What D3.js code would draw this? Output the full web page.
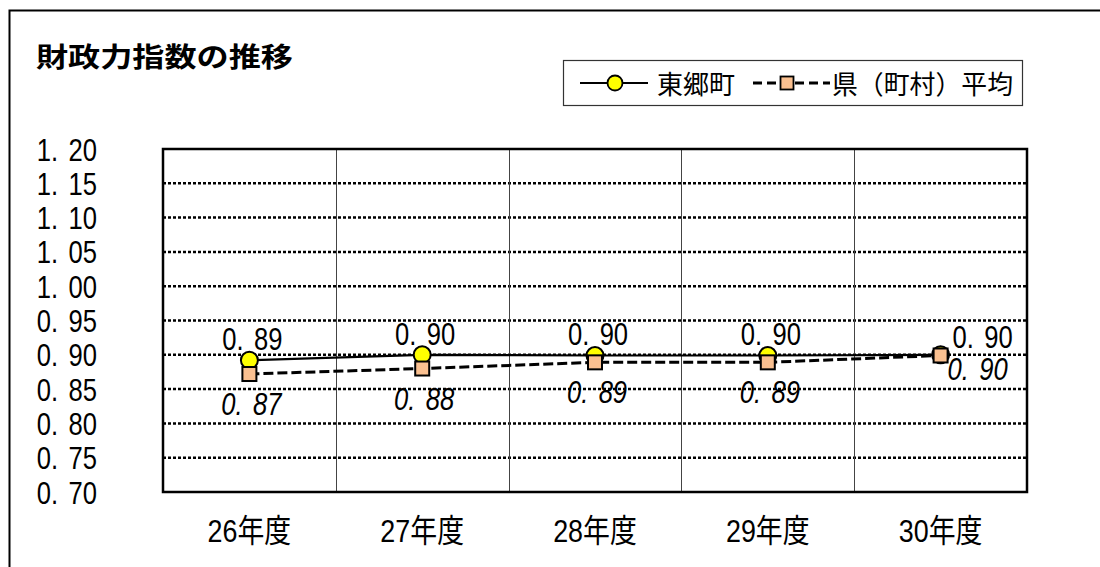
<!DOCTYPE html>
<html><head><meta charset="utf-8">
<script src="https://cdn.jsdelivr.net/npm/d3@7/dist/d3.min.js"></script>
<style>html,body{margin:0;padding:0;background:#fff;}svg{display:block;}</style>
</head><body>
<script>
const title = "財政力指数の推移";
const categories = ["26年度", "27年度", "28年度", "29年度", "30年度"];
const seriesNames = ["東郷町", "県（町村）平均"];
const townValues = [0.892, 0.900, 0.899, 0.899, 0.900];
const prefValues = [0.872, 0.880, 0.889, 0.889, 0.899];
const yTicks = [0.70, 0.75, 0.80, 0.85, 0.90, 0.95, 1.00, 1.05, 1.10, 1.15, 1.20];

const W = 1100, H = 567;
const svg = d3.select("body").append("svg").attr("width", W).attr("height", H);
svg.append("rect").attr("width", W).attr("height", H).attr("fill", "#fff");

// outer border
svg.append("rect").attr("x", 9.5).attr("y", 10.5).attr("width", 1200).attr("height", 700)
  .attr("fill", "none").attr("stroke", "#000").attr("stroke-width", 2);

const plot = {left: 163, right: 1027, top: 149, bottom: 492};
const x = d3.scaleBand().domain(categories).range([plot.left, plot.right]);
const y = d3.scaleLinear().domain([0.70, 1.20]).range([plot.bottom, plot.top]);
const cx = c => x(c) + x.bandwidth() / 2;

const NUMFONT = "'Liberation Sans', Arial, sans-serif";
const SX = 0.8;
function numText(parent, str, px, py, anchor, italic) {
  const g = parent.append("g").attr("transform", `translate(${px},${py}) scale(${SX},1)`);
  const t = g.append("text").attr("text-anchor", anchor)
    .attr("font-family", NUMFONT).attr("font-size", 32).attr("fill", "#000");
  if (italic) t.attr("font-style", "italic");
  const parts = str.split(".");
  t.append("tspan").text(parts[0] + ".");
  t.append("tspan").attr("dx", 13).text(parts[1]);
  return g;
}

// title
svg.append("text").attr("x", 36).attr("y", 67).attr("font-family", "'Noto Sans CJK JP', sans-serif")
  .attr("font-size", 27).attr("font-weight", "bold").attr("textLength", 257)
  .attr("lengthAdjust", "spacingAndGlyphs").text(title);

// legend
const lg = svg.append("g");
lg.append("rect").attr("x", 563.5).attr("y", 60.5).attr("width", 459).attr("height", 45)
  .attr("fill", "#fff").attr("stroke", "#333").attr("stroke-width", 1.2);
lg.append("line").attr("x1", 580).attr("x2", 648).attr("y1", 83).attr("y2", 83)
  .attr("stroke", "#000").attr("stroke-width", 2);
lg.append("circle").attr("cx", 615).attr("cy", 83).attr("r", 7.5)
  .attr("fill", "#FFFF00").attr("stroke", "#000").attr("stroke-width", 1.8);
lg.append("text").attr("x", 657).attr("y", 94).attr("font-family", "'Noto Sans CJK JP', sans-serif")
  .attr("font-size", 26).attr("textLength", 78).attr("lengthAdjust", "spacingAndGlyphs").text(seriesNames[0]);
lg.append("line").attr("x1", 753).attr("x2", 830).attr("y1", 83).attr("y2", 83)
  .attr("stroke", "#000").attr("stroke-width", 2.8).attr("stroke-dasharray", "9,5");
lg.append("rect").attr("x", 780.5).attr("y", 76.5).attr("width", 13).attr("height", 13)
  .attr("fill", "#FAC090").attr("stroke", "#000").attr("stroke-width", 1.8);
lg.append("text").attr("x", 832).attr("y", 94).attr("font-family", "'Noto Sans CJK JP', sans-serif")
  .attr("font-size", 26).attr("textLength", 181).attr("lengthAdjust", "spacingAndGlyphs").text(seriesNames[1]);

// horizontal dotted grid
svg.append("g").selectAll("line").data(yTicks.filter(v => v > 0.70 && v < 1.20)).join("line")
  .attr("x1", plot.left).attr("x2", plot.right).attr("y1", d => y(d)).attr("y2", d => y(d))
  .attr("stroke", "#000").attr("stroke-width", 2.5).attr("stroke-dasharray", "3,2");

// vertical separators
svg.append("g").selectAll("line").data(categories.slice(1)).join("line")
  .attr("x1", d => Math.round(x(d)) + 0.5).attr("x2", d => Math.round(x(d)) + 0.5)
  .attr("y1", plot.top).attr("y2", plot.bottom)
  .attr("stroke", "#444").attr("stroke-width", 1);

// plot border
svg.append("rect").attr("x", plot.left).attr("y", plot.top)
  .attr("width", plot.right - plot.left).attr("height", plot.bottom - plot.top)
  .attr("fill", "none").attr("stroke", "#000").attr("stroke-width", 2.5);

// y tick labels
const yl = svg.append("g");
yTicks.forEach(v => numText(yl, v.toFixed(2), 97, y(v) + 11.5, "end", false));

// x labels
const xl = svg.append("g");
categories.forEach(c => {
  xl.append("g").attr("transform", `translate(${cx(c)},542) scale(0.84,1)`)
    .append("text").attr("text-anchor", "middle")
    .attr("font-family", "'Liberation Sans', 'Noto Sans CJK JP', sans-serif")
    .attr("font-size", 32).text(c);
});

// lines
const townPts = categories.map((c, i) => [cx(c), y(townValues[i])]);
const prefPts = categories.map((c, i) => [cx(c), y(prefValues[i])]);
const line = d3.line();
svg.append("path").attr("d", line(townPts)).attr("fill", "none")
  .attr("stroke", "#000").attr("stroke-width", 2.2);
svg.append("path").attr("d", line(prefPts)).attr("fill", "none")
  .attr("stroke", "#000").attr("stroke-width", 3).attr("stroke-dasharray", "10,4");

// markers
svg.append("g").selectAll("circle").data(townPts).join("circle")
  .attr("cx", d => d[0]).attr("cy", d => d[1]).attr("r", 8.5)
  .attr("fill", "#FFFF00").attr("stroke", "#000").attr("stroke-width", 2);
svg.append("g").selectAll("rect").data(prefPts).join("rect")
  .attr("x", d => d[0] - 7).attr("y", d => d[1] - 7).attr("width", 14).attr("height", 14)
  .attr("fill", "#FAC090").attr("stroke", "#000").attr("stroke-width", 2);

// data labels
const dl = svg.append("g");
const last = categories.length - 1;
townPts.forEach((p, i) => {
  const s = townValues[i].toFixed(2);
  if (i === last) numText(dl, s, p[0] + 12, p[1] - 7, "start", false);
  else numText(dl, s, p[0] + 3, p[1] - 10, "middle", false);
});
prefPts.forEach((p, i) => {
  const s = prefValues[i].toFixed(2);
  if (i === last) numText(dl, s, p[0] + 7, p[1] + 25, "start", true);
  else numText(dl, s, p[0] + 2, p[1] + 41, "middle", true);
});
</script>
</body></html>
